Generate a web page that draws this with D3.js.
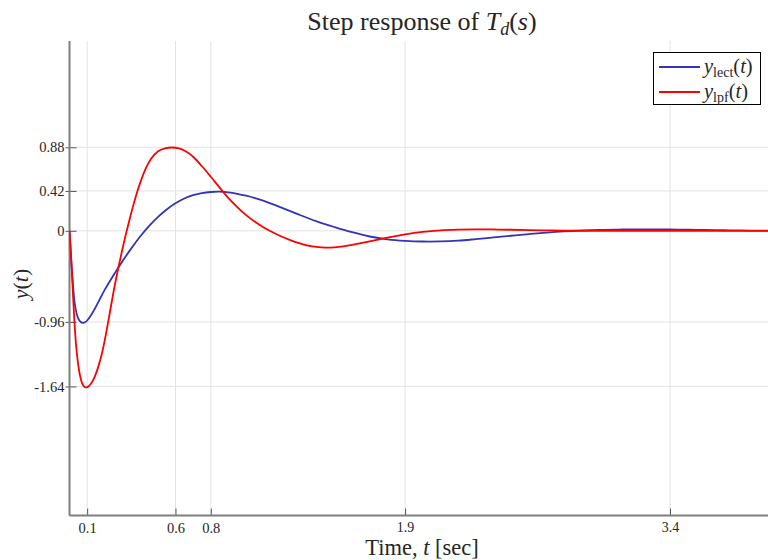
<!DOCTYPE html>
<html>
<head>
<meta charset="utf-8">
<script src="https://cdn.jsdelivr.net/npm/d3@7"></script>
<style>
  html, body { margin: 0; padding: 0; background: #fff; }
  svg { display: block; }
  text { font-family: "Liberation Serif", "Times New Roman", serif; fill: #262626; }
</style>
</head>
<body>
<svg id="chart" width="768" height="560"></svg>
<script>
// ---- data ----
const xTicks = [0.1, 0.6, 0.8, 1.9, 3.4];
const yTicks = [0.88, 0.42, 0, -0.96, -1.64];
const yTickLabels = ["0.88", "0.42", "0", "-0.96", "-1.64"];

const tLect = [0, 0.01, 0.02, 0.03, 0.04, 0.05, 0.06, 0.07, 0.08, 0.09, 0.10, 0.12, 0.14, 0.16, 0.18, 0.20, 0.25, 0.30, 0.35, 0.40, 0.45, 0.50, 0.55, 0.60, 0.65, 0.70, 0.75, 0.80, 0.85, 0.90, 0.95, 1.00, 1.05, 1.10, 1.20, 1.30, 1.40, 1.50, 1.60, 1.70, 1.80, 1.90, 2.00, 2.10, 2.20, 2.30, 2.40, 2.50, 2.60, 2.70, 2.80, 2.90, 3.00, 3.10, 3.20, 3.30, 3.40, 3.50, 3.60, 3.70, 3.80, 3.90, 4.00];
const yLect = [0, -0.32, -0.58, -0.77, -0.87, -0.925, -0.955, -0.968, -0.97, -0.962, -0.945, -0.895, -0.832, -0.762, -0.69, -0.62, -0.465, -0.32, -0.185, -0.06, 0.05, 0.145, 0.225, 0.29, 0.34, 0.375, 0.397, 0.409, 0.412, 0.405, 0.39, 0.37, 0.345, 0.315, 0.245, 0.17, 0.10, 0.04, -0.015, -0.06, -0.09, -0.106, -0.113, -0.112, -0.104, -0.088, -0.07, -0.052, -0.035, -0.019, -0.006, 0.003, 0.009, 0.013, 0.015, 0.015, 0.014, 0.012, 0.009, 0.006, 0.004, 0.002, 0.001];

const tLpf = [0, 0.01, 0.02, 0.03, 0.04, 0.05, 0.06, 0.07, 0.08, 0.09, 0.10, 0.11, 0.12, 0.14, 0.16, 0.18, 0.20, 0.22, 0.24, 0.26, 0.28, 0.30, 0.32, 0.34, 0.36, 0.38, 0.40, 0.43, 0.46, 0.50, 0.54, 0.58, 0.62, 0.66, 0.70, 0.75, 0.80, 0.85, 0.90, 0.95, 1.00, 1.05, 1.10, 1.15, 1.20, 1.25, 1.30, 1.35, 1.40, 1.45, 1.50, 1.55, 1.60, 1.70, 1.80, 1.90, 2.00, 2.10, 2.20, 2.30, 2.40, 2.50, 2.60, 2.70, 2.80, 2.90, 3.00, 3.20, 3.40, 3.60, 3.80, 4.00];
const yLpf = [0, -0.30, -0.68, -1.02, -1.26, -1.42, -1.53, -1.60, -1.635, -1.65, -1.648, -1.635, -1.615, -1.55, -1.45, -1.32, -1.15, -0.95, -0.74, -0.54, -0.36, -0.19, -0.03, 0.12, 0.26, 0.39, 0.505, 0.65, 0.755, 0.835, 0.868, 0.878, 0.868, 0.835, 0.78, 0.68, 0.57, 0.455, 0.345, 0.25, 0.165, 0.095, 0.035, -0.015, -0.06, -0.098, -0.13, -0.155, -0.17, -0.177, -0.174, -0.164, -0.148, -0.112, -0.072, -0.038, -0.012, 0.004, 0.012, 0.015, 0.014, 0.011, 0.007, 0.004, 0.002, 0.0, -0.001, 0.0, 0.0, 0.0, 0.0, 0.0];

const seriesNames = ["lect", "lpf"];
const seriesColors = ["#3434b8", "#ff0000"];

// ---- layout ----
const svg = d3.select("#chart");
const mLeft = 69.5, mRight = 776, mTop = 41, mBottom = 515.5;
const x = d3.scaleLinear().domain([0, 4]).range([mLeft, mRight]);
const y = d3.scaleLinear().domain([-3, 2]).range([mBottom, mTop]);

const defs = svg.append("defs");
defs.append("clipPath").attr("id", "clip").append("rect")
  .attr("x", mLeft).attr("y", mTop).attr("width", mRight - mLeft).attr("height", mBottom - mTop);

// grid
const grid = svg.append("g");
grid.selectAll("line.gx").data(xTicks).join("line")
  .attr("x1", d => x(d)).attr("x2", d => x(d))
  .attr("y1", mTop).attr("y2", mBottom)
  .attr("stroke", "#e3e3e3").attr("stroke-width", 1);
grid.selectAll("line.gy").data(yTicks).join("line")
  .attr("x1", mLeft).attr("x2", mRight)
  .attr("y1", d => y(d)).attr("y2", d => y(d))
  .attr("stroke", "#e3e3e3").attr("stroke-width", 1);

// axes using d3 axis generators
const xAxis = d3.axisBottom(x).tickValues(xTicks).tickSizeInner(-7).tickSizeOuter(0).tickPadding(7)
  .tickFormat(d3.format(".1f"));
const gx = svg.append("g").attr("transform", `translate(0,${mBottom})`).call(xAxis);
gx.select(".domain").remove();
gx.selectAll(".tick line").attr("stroke", "#555").attr("stroke-width", 1);
gx.selectAll(".tick text")
  .attr("font-family", "Liberation Serif, serif")
  .attr("font-size", d => (d > 1 ? 14 : 14.5))
  .attr("fill", "#262626");

const yAxis = d3.axisLeft(y).tickValues(yTicks).tickSizeInner(-7).tickSizeOuter(0).tickPadding(5)
  .tickFormat((d, i) => yTickLabels[i]);
const gy = svg.append("g").attr("transform", `translate(${mLeft},0)`).call(yAxis);
gy.select(".domain").remove();
gy.selectAll(".tick line").attr("stroke", "#555").attr("stroke-width", 1).attr("x1", -4);
gy.selectAll(".tick text")
  .attr("font-family", "Liberation Serif, serif")
  .attr("font-size", 14.5)
  .attr("fill", "#262626");

// axis lines
svg.append("line").attr("x1", mLeft).attr("x2", mLeft).attr("y1", mTop).attr("y2", mBottom)
  .attr("stroke", "#7f7f7f").attr("stroke-width", 2);
svg.append("line").attr("x1", mLeft).attr("x2", 768).attr("y1", mBottom).attr("y2", mBottom)
  .attr("stroke", "#7f7f7f").attr("stroke-width", 2);

// lines
const line = d3.line().curve(d3.curveCatmullRom.alpha(0.5)).x(d => x(d[0])).y(d => y(d[1]));
const lectData = tLect.map((t, i) => [t, yLect[i]]);
const lpfData = tLpf.map((t, i) => [t, yLpf[i]]);
const plot = svg.append("g").attr("clip-path", "url(#clip)");
plot.append("path").datum(lectData).attr("d", line)
  .attr("fill", "none").attr("stroke", seriesColors[0]).attr("stroke-width", 1.8);
plot.append("path").datum(lpfData).attr("d", line)
  .attr("fill", "none").attr("stroke", seriesColors[1]).attr("stroke-width", 1.8);

// title
const title = svg.append("text").attr("x", 422).attr("y", 30).attr("text-anchor", "middle")
  .attr("font-size", 26).attr("fill", "#000");
title.append("tspan").text("Step response of ");
title.append("tspan").attr("font-style", "italic").text("T");
title.append("tspan").attr("font-style", "italic").attr("font-size", 18).attr("dy", 5).text("d");
title.append("tspan").attr("dy", -5).text("(");
title.append("tspan").attr("font-style", "italic").text("s");
title.append("tspan").text(")");

// x label
const xl = svg.append("text").attr("x", 422).attr("y", 555).attr("text-anchor", "middle")
  .attr("font-size", 22.5).attr("fill", "#262626");
xl.append("tspan").text("Time, ");
xl.append("tspan").attr("font-style", "italic").text("t");
xl.append("tspan").text(" [sec]");

// y label
const yl = svg.append("text").attr("transform", "translate(28,284) rotate(-90)")
  .attr("text-anchor", "middle").attr("font-size", 22).attr("fill", "#262626");
yl.append("tspan").attr("font-style", "italic").text("y");
yl.append("tspan").text("(");
yl.append("tspan").attr("font-style", "italic").text("t");
yl.append("tspan").text(")");

// legend
const lg = svg.append("g");
lg.append("rect").attr("x", 653.5).attr("y", 52.5).attr("width", 107).attr("height", 52)
  .attr("fill", "#fff").attr("stroke", "#000").attr("stroke-width", 1);
seriesNames.forEach((name, i) => {
  const yy = 67 + i * 25;
  lg.append("line").attr("x1", 659).attr("x2", 700).attr("y1", yy).attr("y2", yy)
    .attr("stroke", seriesColors[i]).attr("stroke-width", 1.8);
  const t = lg.append("text").attr("x", 704).attr("y", yy + 6).attr("font-size", 20.5).attr("fill", "#000");
  t.append("tspan").attr("font-style", "italic").text("y");
  t.append("tspan").attr("font-size", 14).attr("dy", 4).text(name);
  t.append("tspan").attr("dy", -4).text("(");
  t.append("tspan").attr("font-style", "italic").text("t");
  t.append("tspan").text(")");
});
</script>
</body>
</html>
